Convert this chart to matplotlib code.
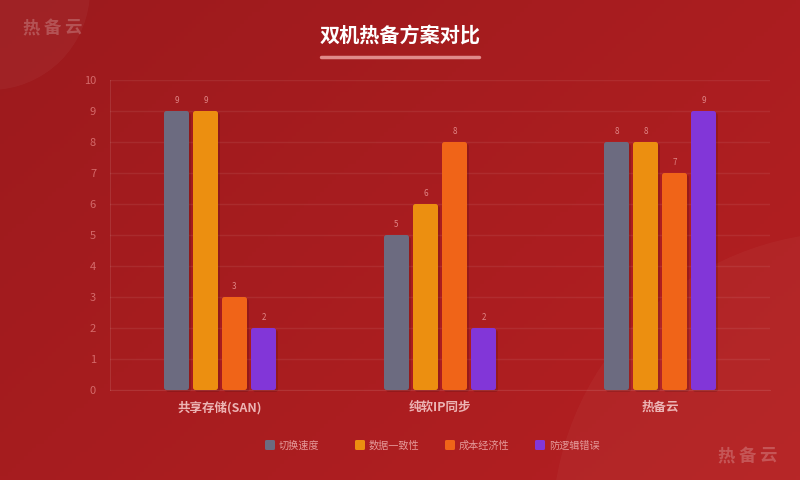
import numpy as np
import matplotlib
matplotlib.use("Agg")
import matplotlib.pyplot as plt
from matplotlib.patches import Circle, Rectangle, FancyBboxPatch

plt.rcParams['font.family'] = ['Noto Sans CJK SC', 'DejaVu Sans']

# data
categories = ["共享存储(SAN)", "纯软IP同步", "热备云"]
series_names = ["切换速度", "数据一致性", "成本经济性", "防逻辑错误"]
switch_speed = [9, 5, 8]
consistency = [9, 6, 8]
cost = [3, 8, 7]
logic_protect = [2, 2, 9]
series_values = [switch_speed, consistency, cost, logic_protect]
series_colors = ["#6c6b80", "#ec8f10", "#f06418", "#8236d8"]
y_ticks = list(range(0, 11))

W, H = 800, 480
fig = plt.figure(figsize=(8, 4.8), dpi=100)

# background gradient
bg = fig.add_axes([0, 0, 1, 1])
bg.set_xlim(0, W)
bg.set_ylim(H, 0)
bg.axis('off')
c1 = np.array([0x9c, 0x1a, 0x1d]) / 255
c2 = np.array([0xb5, 0x20, 0x22]) / 255
gx, gy = np.meshgrid(np.linspace(0, 1, 200), np.linspace(0, 1, 120))
t = (gx * 0.6 + gy * 0.4)[..., None]
grad = c1 * (1 - t) + c2 * t
bg.imshow(grad, extent=[0, W, H, 0], aspect='auto', zorder=0)
bg.add_patch(Circle((-10, -10), 100, color='white', alpha=0.04, lw=0, zorder=1))
bg.add_patch(Circle((850, 530), 298, color='white', alpha=0.03, lw=0, zorder=1))

# title and underline
bg.text(400, 35, "双机热备方案对比", color='white', fontsize=14.5, fontweight='bold',
        ha='center', va='center', zorder=3)
bg.plot([321, 479], [57, 57], color='#e08a8a', lw=2.5, solid_capstyle='round', zorder=3)

# watermarks
for i, ch in enumerate("热备云"):
    bg.text(31 + i * 21, 28, ch, color='white', alpha=0.22, fontsize=12.5,
            fontweight='bold', ha='center', va='center', zorder=3)
    bg.text(726 + i * 21, 456, ch, color='white', alpha=0.22, fontsize=12.5,
            fontweight='bold', ha='center', va='center', zorder=3)

# legend
for i, (name, col) in enumerate(zip(series_names, series_colors)):
    x0 = 265 + i * 90
    bg.add_patch(FancyBboxPatch((x0 + 1, 441), 8, 8, boxstyle="round,pad=1,rounding_size=1.5",
                                color=col, lw=0, zorder=3))
    bg.text(x0 + 14, 446, name, color='#e59a9a', fontsize=7.3, ha='left', va='center', zorder=3)

# main chart
ax = fig.add_axes([110 / W, 1 - 390 / H, 660 / W, 310 / H])
ax.set_facecolor('none')
ax.set_xlim(-0.5, len(categories) - 0.5)
ax.set_ylim(0, 10)

bw = 25 / 220
step = 29 / 220
px_x = 1 / 220   # one pixel in x data units
px_y = 10 / 310  # one pixel in y data units
x = np.arange(len(categories))
for k, (vals, col) in enumerate(zip(series_values, series_colors)):
    off = (k - 1.5) * step
    bars = ax.bar(x + off, vals, width=bw, color=col, zorder=3)
    for b in bars:
        b.set_visible(False)
        bx, by, bwid, bh = b.get_x(), b.get_y(), b.get_width(), b.get_height()
        # soft shadow
        ax.add_patch(FancyBboxPatch((bx + 2 * px_x, by - 2 * px_y), bwid, bh,
                                    boxstyle="round,pad=0,rounding_size=%f" % (2.5 * px_x),
                                    mutation_aspect=px_y / px_x, color='black', alpha=0.13,
                                    lw=0, zorder=2, clip_on=False))
        ax.add_patch(FancyBboxPatch((bx, by), bwid, bh,
                                    boxstyle="round,pad=0,rounding_size=%f" % (2.5 * px_x),
                                    mutation_aspect=px_y / px_x, color=col, lw=0, zorder=3,
                                    clip_on=False))
    for xi, v in zip(x, vals):
        ax.text(xi + off, v + 0.18, str(v), color='#e08585', fontsize=5.8,
                ha='center', va='bottom', zorder=4)

ax.set_yticks(y_ticks)
ax.set_xticks(x)
ax.set_xticklabels(categories, color='#ecb4b4', fontsize=9, fontweight='bold')
ax.tick_params(axis='y', colors='#d46a6a', labelsize=8, length=0, pad=10)
ax.tick_params(axis='x', length=0, pad=8)
ax.grid(axis='y', color='white', alpha=0.07, lw=1)
ax.set_axisbelow(True)
for s in ['top', 'right']:
    ax.spines[s].set_visible(False)
for s in ['left', 'bottom']:
    ax.spines[s].set_color((1, 1, 1, 0.1))

fig.savefig("out.png", dpi=100)
